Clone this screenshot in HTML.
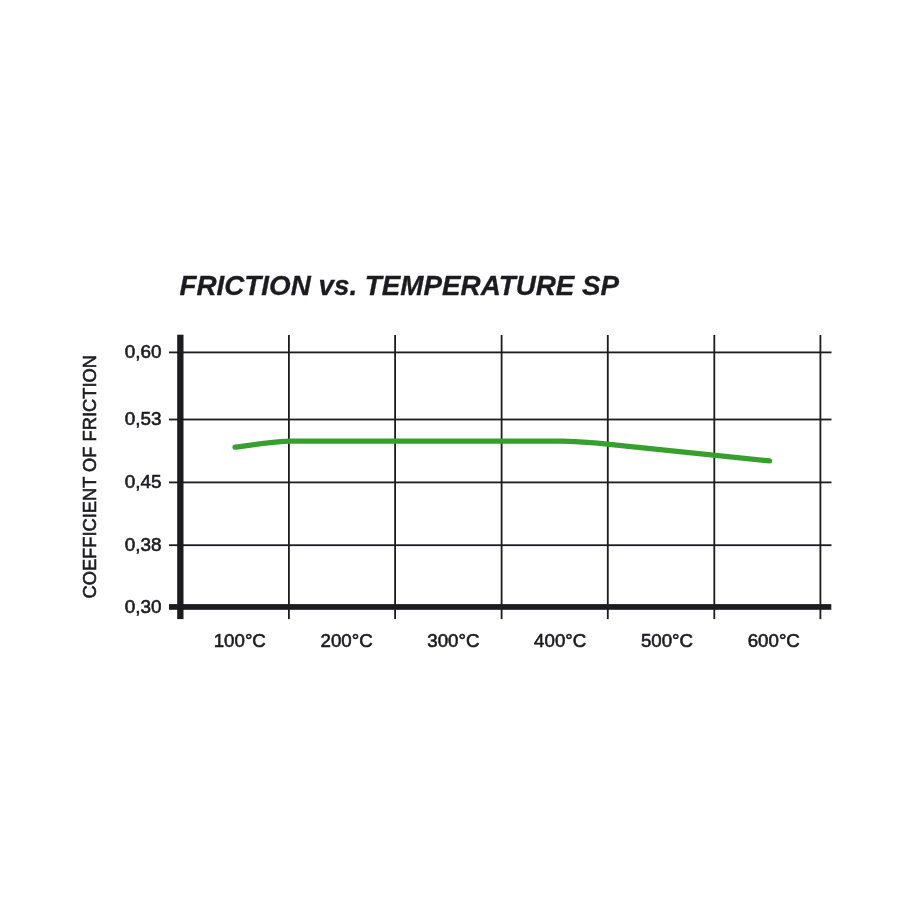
<!DOCTYPE html>
<html>
<head>
<meta charset="utf-8">
<style>
html,body{margin:0;padding:0;background:#fff;width:900px;height:900px;overflow:hidden;}
svg{display:block;will-change:transform;}
text{font-family:"Liberation Sans", sans-serif;fill:#1c1b1f;stroke:#1c1b1f;stroke-width:0.6px;}
.title{font-weight:bold;font-style:italic;font-size:27.8px;stroke-width:0.3px;}
.yl{font-size:18.9px;}
.xl{font-size:18.7px;}
.yt{font-size:18.3px;}
</style>
</head>
<body>
<svg width="900" height="900" viewBox="0 0 900 900">
<rect x="0" y="0" width="900" height="900" fill="#fff"/>
<text class="title" x="179.5" y="295.2">FRICTION vs. TEMPERATURE SP</text>

<g fill="#1c1b1f">
  <!-- horizontal thin lines -->
  <rect x="169" y="351.5" width="662.5" height="1.8"/>
  <rect x="169" y="418.6" width="662.5" height="1.8"/>
  <rect x="169" y="481.5" width="662.5" height="1.8"/>
  <rect x="169" y="544.3" width="662.5" height="1.8"/>
  <!-- vertical thin lines -->
  <rect x="288" y="335" width="1.8" height="284.1"/>
  <rect x="394.2" y="335" width="1.8" height="284.1"/>
  <rect x="500.7" y="335" width="1.8" height="284.1"/>
  <rect x="606.9" y="335" width="1.8" height="284.1"/>
  <rect x="713.4" y="335" width="1.8" height="284.1"/>
  <rect x="819.5" y="335" width="1.8" height="284.1"/>
  <!-- axes -->
  <rect x="177.2" y="334.7" width="6.3" height="284.4"/>
  <rect x="169" y="604.1" width="662.3" height="5.7"/>
</g>

<path d="M235,447.2 C251,445 266,442.6 289,441.2 L562,441.2 C585,442 595,442.8 607,444.2 L769.5,460.9" fill="none" stroke="#36a02c" stroke-width="5.3" stroke-linecap="round" stroke-linejoin="round"/>

<g class="yl" text-anchor="end">
  <text x="161.5" y="357.7">0,60</text>
  <text x="161.5" y="424.7">0,53</text>
  <text x="161.5" y="487.7">0,45</text>
  <text x="161.5" y="550.5">0,38</text>
  <text x="161.5" y="612.5">0,30</text>
</g>

<g class="xl" text-anchor="middle">
  <text x="239.8" y="647.3">100°C</text>
  <text x="346.6" y="647.3">200°C</text>
  <text x="453.4" y="647.3">300°C</text>
  <text x="560.2" y="647.3">400°C</text>
  <text x="667.0" y="647.3">500°C</text>
  <text x="773.8" y="647.3">600°C</text>
</g>

<text class="yt" transform="translate(96,598.5) rotate(-90)">COEFFICIENT OF FRICTION</text>
</svg>
</body>
</html>
